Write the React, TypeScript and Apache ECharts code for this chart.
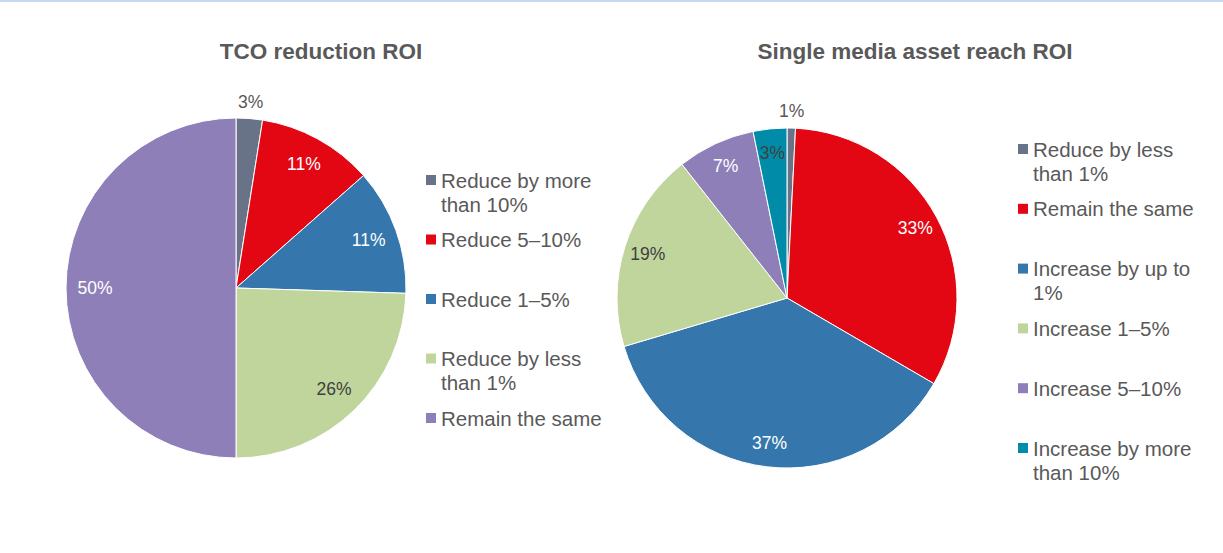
import React, { useEffect, useRef } from "react";
import * as echarts from "echarts";

// ---- Data ----
const tcoTitle = "TCO reduction ROI";
const tcoCategories = [
  "Reduce by more\nthan 10%",
  "Reduce 5–10%",
  "Reduce 1–5%",
  "Reduce by less\nthan 1%",
  "Remain the same",
];
const tcoValues = [2.5, 11, 12, 24.5, 50];
const tcoLabels = ["3%", "11%", "11%", "26%", "50%"];
const tcoColors = ["#687388", "#e30613", "#3577ad", "#bfd59c", "#8e7fb9"];
const tcoLabelColors = ["#595959", "#ffffff", "#ffffff", "#404040", "#ffffff"];
const tcoOutside = [true, false, false, false, false];

const reachTitle = "Single media asset reach ROI";
const reachCategories = [
  "Reduce by less\nthan 1%",
  "Remain the same",
  "Increase by up to\n1%",
  "Increase 1–5%",
  "Increase 5–10%",
  "Increase by more\nthan 10%",
];
const reachValues = [0.8, 32.6, 37, 19, 7.4, 3.2];
const reachLabels = ["1%", "33%", "37%", "19%", "7%", "3%"];
const reachColors = ["#687388", "#e30613", "#3577ad", "#bfd59c", "#8e7fb9", "#008ca8"];
const reachLabelColors = ["#595959", "#ffffff", "#ffffff", "#404040", "#ffffff", "#404040"];
const reachOutside = [true, false, false, false, false, false];

const FONT = "'Liberation Sans', Arial, sans-serif";
const TEXT = "#595959";

function pieSeries(
  center: [number, number],
  values: number[],
  names: string[],
  colors: string[],
  labels: string[],
  labelColors: string[],
  outside: boolean[],
  innerLabelRadius: [number, number]
) {
  const main = {
    type: "pie",
    center,
    radius: [0, 170],
    startAngle: 90,
    clockwise: true,
    silent: true,
    label: { show: false },
    labelLine: { show: false },
    itemStyle: { borderColor: "#ffffff", borderWidth: 1 },
    data: values.map((v, i) => ({
      value: v,
      name: names[i],
      itemStyle: { color: colors[i] },
    })),
  };
  const mkOverlay = (radius: [number, number], showOutside: boolean) => ({
    type: "pie",
    center,
    radius,
    startAngle: 90,
    clockwise: true,
    silent: true,
    avoidLabelOverlap: false,
    labelLine: { show: false },
    itemStyle: { color: "rgba(0,0,0,0)", borderWidth: 0 },
    data: values.map((v, i) => ({
      value: v,
      name: names[i],
      label: {
        show: outside[i] === showOutside,
        position: "inside",
        formatter: labels[i],
        color: labelColors[i],
        fontSize: 17.5,
        fontFamily: FONT,
      },
    })),
  });
  return [main, mkOverlay(innerLabelRadius, false), mkOverlay([170, 198], true)];
}

function legendGraphics(
  names: string[],
  colors: string[],
  squareX: number,
  textX: number,
  firstY: number,
  step: number
) {
  const out: any[] = [];
  names.forEach((n, i) => {
    const cy = firstY + i * step;
    out.push({
      type: "rect",
      shape: { x: squareX, y: cy - 5, width: 10, height: 10 },
      style: { fill: colors[i] },
      silent: true,
    });
    out.push({
      type: "text",
      x: textX,
      y: cy - 12,
      style: {
        text: n,
        fill: TEXT,
        font: `20.5px ${FONT}`,
        lineHeight: 24,
        textVerticalAlign: "top",
        verticalAlign: "top",
      },
      silent: true,
    });
  });
  return out;
}

export default function App() {
  const ref = useRef<HTMLDivElement>(null);
  useEffect(() => {
    document.body.style.margin = "0";
    const chart = echarts.init(ref.current!, null, { renderer: "svg" });
    chart.setOption({
      animation: false,
      backgroundColor: "#ffffff",
      title: [
        {
          text: tcoTitle,
          left: 316,
          top: 35,
          textAlign: "center",
          textStyle: { fontFamily: FONT, fontSize: 22.5, fontWeight: "bold", color: TEXT },
        },
        {
          text: reachTitle,
          left: 910,
          top: 35,
          textAlign: "center",
          textStyle: { fontFamily: FONT, fontSize: 22.5, fontWeight: "bold", color: TEXT },
        },
      ],
      graphic: [
        {
          type: "rect",
          shape: { x: 0, y: 0, width: 1223, height: 2 },
          style: { fill: "#c6d9f1" },
          silent: true,
        },
        ...legendGraphics(tcoCategories, tcoColors, 426, 441, 180, 59.5),
        ...legendGraphics(reachCategories, reachColors, 1018, 1033, 149, 59.8),
      ],
      series: [
        ...pieSeries([236, 288], tcoValues, tcoCategories, tcoColors, tcoLabels, tcoLabelColors, tcoOutside, [106, 170]),
        ...pieSeries([787, 298], reachValues, reachCategories, reachColors, reachLabels, reachLabelColors, reachOutside, [116, 170]),
      ],
    });
    return () => chart.dispose();
  }, []);
  return <div ref={ref} style={{ width: 1223, height: 553 }} />;
}
